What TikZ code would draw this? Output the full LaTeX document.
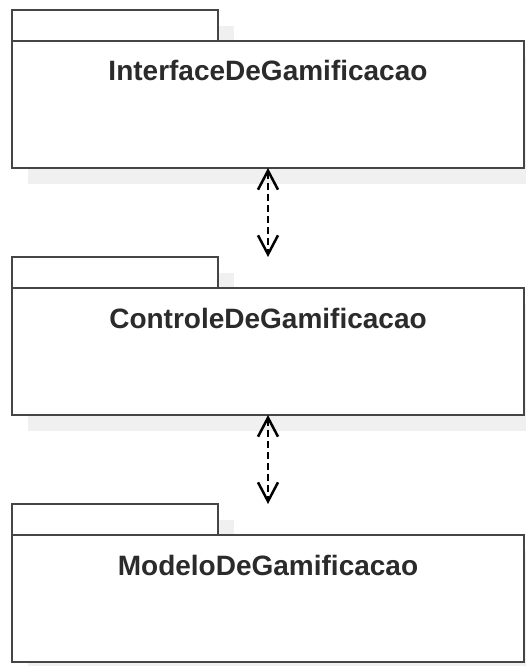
\documentclass[tikz,border=0pt]{standalone}
\usepackage{fontspec}
\setmainfont{Liberation Sans}
\usepackage{xcolor}
\usepackage{tikz}
\usetikzlibrary{arrows.meta, positioning, backgrounds}

\definecolor{pkgline}{HTML}{454545}
\definecolor{pkgtext}{HTML}{2B2B2B}
\definecolor{pkgshadow}{HTML}{F0F0F0}

\begin{document}
\begin{tikzpicture}[
    x=1pt, y=-1pt,
    pkg/.style={rectangle, draw=pkgline, line width=2pt, fill=white, outer sep=0pt, minimum width=512pt, minimum height=127pt},
    pkgtab/.style={rectangle, draw=pkgline, line width=2pt, fill=white, outer sep=0pt, minimum width=206pt, minimum height=31pt},
    pkgname/.style={text=pkgtext, font=\fontsize{28}{30}\selectfont\bfseries, anchor=base},
    usearrow/.style={{Straight Barb[length=19pt, width=20pt]}-{Straight Barb[length=19pt, width=20pt]}, draw=black, line width=2.5pt, dash pattern=on 7pt off 4pt},
    pkgshade/.style={fill=pkgshadow}
]
\useasboundingbox (0,0) rectangle (526,666);

\node[pkg] (iface) at (268,104.5) {};
\node[pkgtab, above=0pt of iface.north west, anchor=south west] (ifacetab) {};
\node[pkgname] at ([yshift=-40pt]iface.north) {InterfaceDeGamificacao};

\node[pkgtab, below=89pt of iface.south west, anchor=north west] (ctrltab) {};
\node[pkg, below=0pt of ctrltab.south west, anchor=north west] (ctrl) {};
\node[pkgname] at ([yshift=-40pt]ctrl.north) {ControleDeGamificacao};

\node[pkgtab, below=89pt of ctrl.south west, anchor=north west] (modeltab) {};
\node[pkg, below=0pt of modeltab.south west, anchor=north west] (model) {};
\node[pkgname] at ([yshift=-40pt]model.north) {ModeloDeGamificacao};

% shadows
\begin{scope}[on background layer]
  \foreach \p in {iface, ctrl, model} {
    \fill[pkgshade] ([shift={(16pt,-16pt)}]\p.south west) rectangle ([shift={(16pt,-16pt)}]\p.north east);
    \fill[pkgshade] ([shift={(16pt,-16pt)}]\p tab.south west) rectangle ([shift={(16pt,-16pt)}]\p tab.north east);
  }
\end{scope}

\draw[usearrow] (iface.south) -- (iface.south |- ctrltab.north);
\draw[usearrow] (ctrl.south) -- (ctrl.south |- modeltab.north);

\end{tikzpicture}
\end{document}
